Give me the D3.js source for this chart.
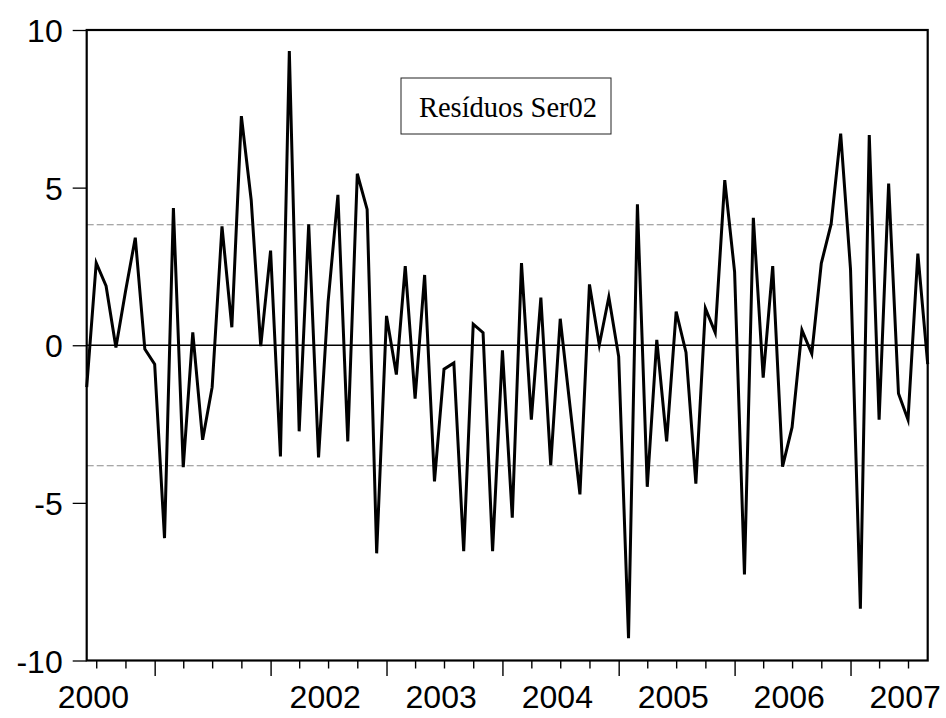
<!DOCTYPE html>
<html>
<head>
<meta charset="utf-8">
<script src="https://cdn.jsdelivr.net/npm/d3@7"></script>
<style>
  html, body { margin: 0; padding: 0; background: #fff; }
  svg { display: block; }
</style>
</head>
<body>
<svg id="chart" width="946" height="718"></svg>
<script>
// ---- data ----
const startMonth = "2000-06"; // first observation
const residuals = [
  -1.33, 2.61, 1.88, -0.07, 1.70, 3.41, -0.12,
  -0.60, -6.12, 4.35, -3.87, 0.41, -3.00, -1.33, 3.77, 0.57, 7.27, 4.60, -0.03,
  3.00, -3.53, 9.33, -2.73, 3.84, -3.56, 1.37, 4.77, -3.05, 5.44, 4.31, -6.60,
  0.93, -0.93, 2.51, -1.69, 2.23, -4.32, -0.76, -0.56, -6.53, 0.67, 0.40, -6.53,
  -0.16, -5.47, 2.61, -2.36, 1.51, -3.80, 0.84, -1.96, -4.73, 1.93, 0.01, 1.53,
  -0.36, -9.29, 4.47, -4.49, 0.17, -3.05, 1.07, -0.23, -4.39, 1.17, 0.40, 5.24,
  2.33, -7.27, 4.04, -1.03, 2.51, -3.85, -2.60, 0.48, -0.27, 2.60, 3.85, 6.71,
  2.41, -8.36, 6.67, -2.36, 5.13, -1.53, -2.36, 2.91, -0.60
];
const bandLevel = 3.82;              // dashed reference lines at +/- this value
const yTicks = [-10, -5, 0, 5, 10];
const yTickLabels = ["-10", "-5", "0", "5", "10"];
const yearLabels = ["2000", "2002", "2003", "2004", "2005", "2006", "2007"];
const legendText = "Resíduos Ser02";

// ---- layout ----
const W = 946, H = 718;
const m = { left: 86.7, right: 18.3, top: 30, bottom: 57.5 };
const iw = W - m.left - m.right, ih = H - m.top - m.bottom;

const parse = d3.utcParse("%Y-%m");
const t0 = parse(startMonth);
const data = residuals.map((v, i) => ({ date: d3.utcMonth.offset(t0, i), value: v }));

const x = d3.scaleUtc()
  .domain(d3.extent(data, d => d.date))
  .range([0, iw]);
const y = d3.scaleLinear().domain([-10, 10]).range([ih, 0]);

const svg = d3.select("#chart");
const g = svg.append("g").attr("transform", `translate(${m.left},${m.top})`);

// dashed reference lines
g.selectAll("line.band").data([bandLevel, -bandLevel]).join("line")
  .attr("class", "band")
  .attr("x1", 0).attr("x2", iw)
  .attr("y1", d => y(d)).attr("y2", d => y(d))
  .attr("stroke", "#8a8a8a").attr("stroke-width", 1.1)
  .attr("stroke-dasharray", "7,3");

// zero line
g.append("line")
  .attr("x1", 0).attr("x2", iw)
  .attr("y1", y(0)).attr("y2", y(0))
  .attr("stroke", "#000").attr("stroke-width", 1.3);

// series line
g.append("path")
  .datum(data)
  .attr("fill", "none")
  .attr("stroke", "#000")
  .attr("stroke-width", 3)
  .attr("stroke-linejoin", "miter")
  .attr("stroke-miterlimit", 6)
  .attr("d", d3.line().x(d => x(d.date)).y(d => y(d.value)));

// y axis
const yAxis = g.append("g")
  .call(d3.axisLeft(y).tickValues(yTicks).tickSize(14).tickPadding(10)
    .tickFormat((d, i) => yTickLabels[i]));
yAxis.select(".domain").remove();
yAxis.selectAll("line").attr("stroke", "#000").attr("stroke-width", 1.3);
yAxis.selectAll("text")
  .attr("font-family", "'Liberation Sans', Arial, sans-serif")
  .attr("font-size", 32).attr("fill", "#000")
  .attr("dy", "0.36em");

// x axis ticks: quarterly, yearly ones longer
const quarterTicks = d3.utcMonth.every(3).range(x.domain()[0], d3.utcDay.offset(x.domain()[1], 1))
  .filter(d => d >= x.domain()[0] && d <= x.domain()[1]);
const minorTicks = quarterTicks.filter(d => d.getUTCMonth() !== 0);
const majorTicks = quarterTicks.filter(d => d.getUTCMonth() === 0);

const xMinor = g.append("g").attr("transform", `translate(0,${ih})`)
  .call(d3.axisBottom(x).tickValues(minorTicks).tickSize(8).tickFormat(""));
const xMajor = g.append("g").attr("transform", `translate(0,${ih})`)
  .call(d3.axisBottom(x).tickValues(majorTicks).tickSize(15.5).tickFormat(""));
[xMinor, xMajor].forEach(a => {
  a.select(".domain").remove();
  a.selectAll("line").attr("stroke", "#000").attr("stroke-width", 1.4);
});

// year labels centred near mid-year
g.append("g").selectAll("text").data(yearLabels).join("text")
  .attr("x", d => x(Date.UTC(+d, 5, 22)))
  .attr("y", ih + 47.5)
  .attr("text-anchor", "middle")
  .attr("font-family", "'Liberation Sans', Arial, sans-serif")
  .attr("font-size", 32)
  .attr("fill", "#000")
  .text(d => d);

// frame
g.append("rect")
  .attr("x", 0).attr("y", 0).attr("width", iw).attr("height", ih)
  .attr("fill", "none").attr("stroke", "#000").attr("stroke-width", 2.2);

// legend box
const lg = svg.append("g");
lg.append("rect")
  .attr("x", 401).attr("y", 78).attr("width", 210).attr("height", 56)
  .attr("fill", "#fff").attr("stroke", "#222").attr("stroke-width", 1);
lg.append("text")
  .attr("x", 508).attr("y", 116.5)
  .attr("text-anchor", "middle")
  .attr("font-family", "'Liberation Serif', 'Times New Roman', serif")
  .attr("font-size", 28.5)
  .attr("fill", "#000")
  .text(legendText);
</script>
</body>
</html>
